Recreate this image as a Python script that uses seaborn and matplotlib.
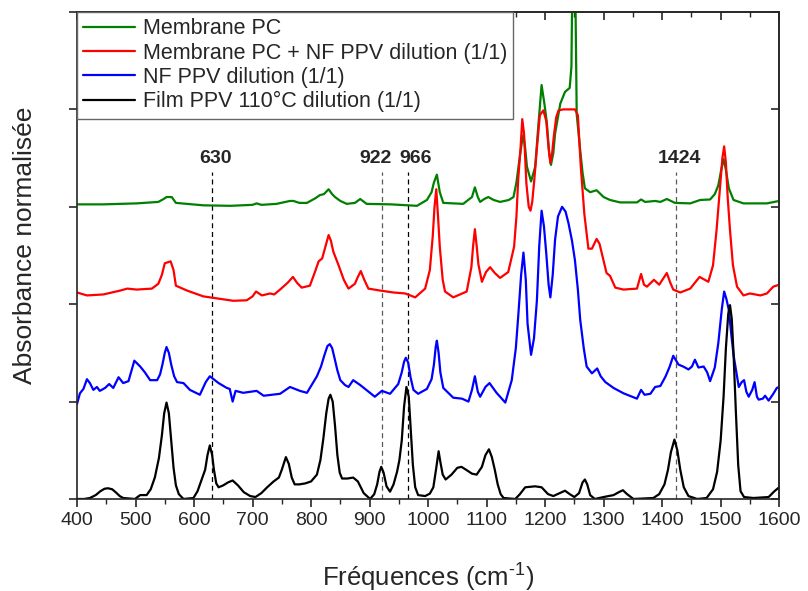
import pandas as pd
import seaborn as sns
import matplotlib.pyplot as plt
from matplotlib.ticker import MultipleLocator

# Spectra (x in cm-1, y in normalised absorbance with offsets)
pc_x = [400, 445, 502, 539, 548, 553, 562, 569, 616, 662, 700, 707, 715, 741, 764, 770, 780, 793,
        808, 815, 822, 830, 836, 841, 850, 861, 875, 884, 895, 936, 981, 998, 1006, 1010, 1015, 1020,
        1026, 1060, 1075, 1080, 1085, 1089, 1096, 1103, 1112, 1123, 1138, 1146, 1151, 1156, 1160,
        1163, 1166, 1169, 1176, 1183, 1188, 1194, 1199, 1203, 1207, 1210, 1214, 1217, 1226, 1234,
        1242, 1245, 1247, 1251, 1254, 1260, 1264, 1268, 1277, 1288, 1300, 1311, 1328, 1357, 1364,
        1371, 1380, 1388, 1397, 1408, 1422, 1448, 1465, 1482, 1490, 1496, 1501, 1505, 1509, 1514,
        1522, 1539, 1579, 1600]
pc_y = [3.025, 3.025, 3.035, 3.05, 3.08, 3.10, 3.10, 3.04, 3.015, 3.01, 3.02, 3.035, 3.02, 3.03,
        3.06, 3.06, 3.04, 3.04, 3.09, 3.12, 3.13, 3.18, 3.13, 3.10, 3.06, 3.03, 3.04, 3.08, 3.03,
        3.025, 3.01, 3.07, 3.15, 3.25, 3.33, 3.15, 3.04, 3.03, 3.10, 3.20, 3.10, 3.05, 3.08, 3.10,
        3.07, 3.05, 3.07, 3.10, 3.25, 3.48, 3.65, 3.74, 3.60, 3.41, 3.26, 3.41, 3.80, 4.25, 4.05,
        3.86, 3.55, 3.43, 3.55, 3.75, 4.06, 4.18, 4.22, 4.44, 5.6, 5.6, 3.95, 3.58, 3.35, 3.19,
        3.15, 3.17, 3.10, 3.07, 3.045, 3.045, 3.075, 3.05, 3.055, 3.06, 3.05, 3.08, 3.04, 3.035,
        3.07, 3.075, 3.13, 3.22, 3.38, 3.49, 3.38, 3.19, 3.07, 3.035, 3.035, 3.06]

mix_x = [400, 417, 445, 474, 486, 502, 528, 539, 545, 550, 560, 565, 569, 588, 616, 639, 667, 690,
         700, 706, 716, 730, 737, 747, 760, 769, 776, 784, 798, 806, 813, 819, 825, 830, 834, 838,
         847, 856, 864, 875, 880, 885, 891, 898, 918, 941, 961, 978, 995, 1003, 1008, 1011, 1014,
         1017, 1020, 1025, 1029, 1043, 1066, 1074, 1077, 1080, 1083, 1086, 1092, 1099, 1106, 1114,
         1123, 1137, 1147, 1151, 1154, 1158, 1161, 1164, 1168, 1172, 1175, 1178, 1181, 1186, 1191,
         1197, 1202, 1206, 1209, 1212, 1215, 1219, 1223, 1231, 1251, 1256, 1261, 1267, 1274, 1280,
         1288, 1293, 1297, 1305, 1311, 1320, 1334, 1357, 1364, 1369, 1374, 1386, 1395, 1408, 1414,
         1419, 1431, 1448, 1464, 1479, 1487, 1493, 1499, 1503, 1506, 1509, 1512, 1516, 1521, 1528,
         1539, 1550, 1559, 1568, 1579, 1590, 1600]
mix_y = [2.12, 2.09, 2.10, 2.14, 2.16, 2.15, 2.16, 2.21, 2.30, 2.42, 2.44, 2.35, 2.19, 2.14, 2.08,
         2.06, 2.035, 2.04, 2.08, 2.13, 2.09, 2.11, 2.10, 2.15, 2.22, 2.28, 2.22, 2.17, 2.19, 2.32,
         2.44, 2.47, 2.60, 2.71, 2.65, 2.54, 2.40, 2.25, 2.16, 2.21, 2.28, 2.34, 2.25, 2.16, 2.14,
         2.12, 2.11, 2.07, 2.16, 2.35, 2.70, 3.00, 3.18, 2.90, 2.59, 2.25, 2.13, 2.07, 2.13, 2.38,
         2.60, 2.77, 2.60, 2.41, 2.23, 2.33, 2.38, 2.32, 2.27, 2.33, 2.59, 2.90, 3.28, 3.60, 3.90,
         3.75, 3.24, 3.00, 2.96, 3.05, 3.24, 3.60, 3.94, 3.99, 3.88, 3.60, 3.45, 3.55, 3.73, 3.92,
         3.99, 4.00, 4.00, 3.94, 3.41, 2.93, 2.57, 2.57, 2.67, 2.62, 2.52, 2.32, 2.29, 2.17, 2.15,
         2.16, 2.31, 2.20, 2.18, 2.25, 2.20, 2.32, 2.22, 2.15, 2.12, 2.16, 2.28, 2.23, 2.40, 2.76,
         3.20, 3.50, 3.62, 3.45, 3.10, 2.76, 2.40, 2.18, 2.09, 2.11, 2.10, 2.09, 2.11, 2.18, 2.20]

nf_x = [400, 405, 411, 417, 422, 428, 434, 439, 448, 455, 462, 471, 479, 488, 498, 508, 516, 525,
        537, 542, 546, 550, 553, 557, 561, 566, 571, 582, 593, 610, 620, 627, 642, 656, 661, 666,
        671, 684, 707, 719, 747, 764, 781, 793, 810, 817, 823, 828, 832, 836, 840, 845, 850, 858,
        864, 872, 884, 909, 921, 935, 949, 955, 959, 962, 966, 970, 975, 983, 998, 1006, 1010, 1013,
        1015, 1018, 1021, 1026, 1043, 1058, 1069, 1075, 1080, 1085, 1089, 1098, 1105, 1117, 1132,
        1143, 1150, 1154, 1159, 1163, 1167, 1170, 1176, 1181, 1186, 1190, 1194, 1198, 1202, 1206,
        1209, 1213, 1217, 1222, 1229, 1235, 1240, 1246, 1251, 1256, 1260, 1266, 1271, 1280, 1289,
        1295, 1303, 1317, 1334, 1357, 1364, 1370, 1380, 1388, 1397, 1406, 1413, 1419, 1428, 1436,
        1445, 1451, 1456, 1462, 1471, 1477, 1482, 1490, 1496, 1502, 1506, 1510, 1514, 1518, 1522,
        1531, 1536, 1540, 1544, 1548, 1554, 1558, 1562, 1565, 1572, 1576, 1582, 1590, 1596, 1600]
nf_y = [0.975, 1.085, 1.13, 1.23, 1.19, 1.12, 1.15, 1.11, 1.14, 1.18, 1.14, 1.25, 1.19, 1.21,
        1.42, 1.36, 1.30, 1.22, 1.22, 1.28, 1.38, 1.50, 1.56, 1.50, 1.38, 1.26, 1.20, 1.19, 1.12,
        1.07, 1.20, 1.26, 1.19, 1.14, 1.13, 1.00, 1.11, 1.09, 1.11, 1.06, 1.08, 1.15, 1.11, 1.09,
        1.26, 1.36, 1.48, 1.57, 1.59, 1.55, 1.45, 1.32, 1.22, 1.17, 1.15, 1.22, 1.17, 1.05, 1.11,
        1.08, 1.18, 1.30, 1.41, 1.45, 1.40, 1.25, 1.12, 1.08, 1.13, 1.23, 1.38, 1.56, 1.625, 1.50,
        1.30, 1.14, 1.04, 1.03, 1.00, 1.12, 1.26, 1.10, 1.05, 1.15, 1.19, 1.09, 0.99, 1.22, 1.55,
        1.87, 2.30, 2.53, 2.25, 1.80, 1.48, 1.65, 2.04, 2.60, 2.96, 2.80, 2.52, 2.20, 2.07, 2.30,
        2.66, 2.90, 3.00, 2.95, 2.83, 2.65, 2.45, 2.15, 1.84, 1.55, 1.36, 1.29, 1.34, 1.26, 1.20,
        1.14, 1.085, 1.03, 1.12, 1.07, 1.08, 1.15, 1.16, 1.26, 1.36, 1.47, 1.38, 1.36, 1.33, 1.36,
        1.43, 1.35, 1.36, 1.30, 1.21, 1.35, 1.60, 1.95, 2.13, 2.05, 1.94, 1.70, 1.48, 1.15, 1.20,
        1.22, 1.10, 1.05, 1.12, 1.20, 1.05, 1.02, 1.03, 1.06, 1.01, 1.08, 1.14, 1.15]

film_x = [400, 412, 422, 432, 440, 447, 453, 460, 466, 473, 479, 499, 508, 519, 526, 533, 540, 545,
          549, 553, 557, 561, 565, 569, 574, 582, 599, 606, 613, 619, 623, 627, 631, 634, 638, 642,
          650, 658, 666, 675, 685, 696, 705, 715, 725, 736, 745, 750, 757, 762, 767, 772, 780, 790,
          800, 810, 816, 821, 826, 830, 833, 837, 841, 845, 849, 853, 862, 872, 880, 890, 901, 908,
          913, 917, 920, 924, 929, 935, 941, 947, 951, 955, 959, 963, 967, 970, 974, 978, 983, 995,
          1003, 1009, 1014, 1018, 1021, 1025, 1030, 1040, 1050, 1057, 1065, 1075, 1083, 1092, 1098,
          1104, 1109, 1114, 1119, 1124, 1129, 1149, 1157, 1166, 1183, 1194, 1205, 1214, 1225, 1234,
          1242, 1250, 1258, 1264, 1268, 1272, 1277, 1285, 1300, 1317, 1326, 1333, 1340, 1351, 1385,
          1395, 1404, 1410, 1415, 1421, 1426, 1431, 1437, 1445, 1460, 1476, 1487, 1494, 1500, 1505,
          1509, 1513, 1516, 1519, 1522, 1526, 1530, 1534, 1540, 1556, 1582, 1592, 1600]
film_y = [0.0, 0.0, 0.01, 0.04, 0.08, 0.105, 0.11, 0.10, 0.07, 0.03, 0.01, 0.0, 0.04, 0.04, 0.10,
          0.22, 0.42, 0.65, 0.88, 0.99, 0.88, 0.60, 0.32, 0.14, 0.05, 0.0, 0.01, 0.08, 0.20, 0.30,
          0.45, 0.55, 0.45, 0.30, 0.16, 0.12, 0.14, 0.17, 0.19, 0.14, 0.07, 0.03, 0.02, 0.06, 0.12,
          0.18, 0.22, 0.30, 0.43, 0.36, 0.22, 0.15, 0.15, 0.16, 0.18, 0.25, 0.40, 0.62, 0.88, 1.03,
          1.07, 1.00, 0.75, 0.45, 0.27, 0.21, 0.21, 0.22, 0.18, 0.06, 0.0, 0.05, 0.15, 0.28, 0.33,
          0.27, 0.13, 0.075, 0.15, 0.28, 0.40, 0.60, 0.95, 1.15, 1.05, 0.75, 0.35, 0.12, 0.04, 0.03,
          0.055, 0.12, 0.32, 0.49, 0.38, 0.25, 0.20, 0.25, 0.32, 0.33, 0.30, 0.26, 0.25, 0.33, 0.45,
          0.51, 0.43, 0.30, 0.15, 0.05, 0.01, 0.0, 0.05, 0.12, 0.13, 0.12, 0.05, 0.03, 0.06, 0.085,
          0.05, 0.02, 0.06, 0.17, 0.20, 0.15, 0.04, 0.0, 0.02, 0.04, 0.07, 0.09, 0.05, 0.0, 0.01,
          0.05, 0.15, 0.30, 0.48, 0.61, 0.50, 0.30, 0.12, 0.03, 0.0, 0.01, 0.10, 0.28, 0.60, 1.05,
          1.55, 1.90, 1.99, 1.85, 1.50, 0.90, 0.35, 0.08, 0.02, 0.01, 0.02, 0.08, 0.12]

labels = ['Membrane PC', 'Membrane PC + NF PPV dilution (1/1)',
          'NF PPV dilution (1/1)', 'Film PPV 110°C dilution (1/1)']
colors = ['#008000', '#ff0000', '#0000ff', '#000000']

# marked bands and where their labels sit
marks = [630, 922, 966, 1424]
mark_text_x = [636, 910, 979, 1429]
mark_colors = ['black', '0.35', 'black', '0.35']

frames = []
for name, xs, ys in zip(labels, [pc_x, mix_x, nf_x, film_x], [pc_y, mix_y, nf_y, film_y]):
    frames.append(pd.DataFrame({'freq': xs, 'abs': ys, 'sample': name}))
df = pd.concat(frames, ignore_index=True)

sns.set_style('ticks')
plt.rcParams['font.family'] = ['Liberation Sans', 'DejaVu Sans']
plt.rcParams['mathtext.fontset'] = 'custom'
plt.rcParams['mathtext.rm'] = 'Liberation Sans'

fig = plt.figure(figsize=(8.08, 5.91), dpi=100)
ax = fig.add_axes([0.0953, 0.1557, 0.869, 0.824])

sns.lineplot(data=df, x='freq', y='abs', hue='sample', hue_order=labels,
             palette=dict(zip(labels, colors)), estimator=None, sort=False,
             linewidth=1.6, ax=ax)

for m, tx, c in zip(marks, mark_text_x, mark_colors):
    ax.plot([m, m], [0, 3.36], ls=(0, (4, 3)), color=c, lw=0.9, zorder=1)
    ax.text(tx, 3.5, str(m), ha='center', va='center', fontsize=14, fontweight='bold')

ax.set_xlim(400, 1600)
ax.set_ylim(0, 5)
ax.xaxis.set_major_locator(MultipleLocator(100))
ax.xaxis.set_minor_locator(MultipleLocator(50))
ax.yaxis.set_major_locator(MultipleLocator(1))
ax.set_yticklabels([])
ax.tick_params(axis='x', which='major', length=6, width=1.2, labelsize=14)
ax.tick_params(axis='x', which='minor', length=3.5, width=1.0)
ax.tick_params(axis='y', length=6, width=1.2)

top = ax.secondary_xaxis('top')
top.xaxis.set_major_locator(MultipleLocator(100))
top.xaxis.set_minor_locator(MultipleLocator(50))
top.tick_params(which='major', direction='in', length=6, width=1.2, labeltop=False)
top.tick_params(which='minor', direction='in', length=3.5, width=1.0)
right = ax.secondary_yaxis('right')
right.yaxis.set_major_locator(MultipleLocator(1))
right.tick_params(direction='in', length=6, width=1.2, labelright=False)
for sp in list(ax.spines.values()) + [top.spines['top'], right.spines['right']]:
    sp.set_linewidth(1.2)

ax.set_xlabel(r'Fréquences (cm$^{\text{-1}}$)', fontsize=18.5, labelpad=22)
ax.set_ylabel('Absorbance normalisée', fontsize=19)
ax.yaxis.set_label_coords(-0.057, 0.52)

leg = ax.legend(loc='upper left', bbox_to_anchor=(0, 1), borderaxespad=0, fontsize=15.5,
                frameon=True, fancybox=False, framealpha=1, edgecolor='0.4',
                borderpad=0.3, handlelength=2.4, handletextpad=0.35, labelspacing=0.15,
                title=None)
leg.get_frame().set_linewidth(1.0)

fig.savefig('out.png', dpi=100)
